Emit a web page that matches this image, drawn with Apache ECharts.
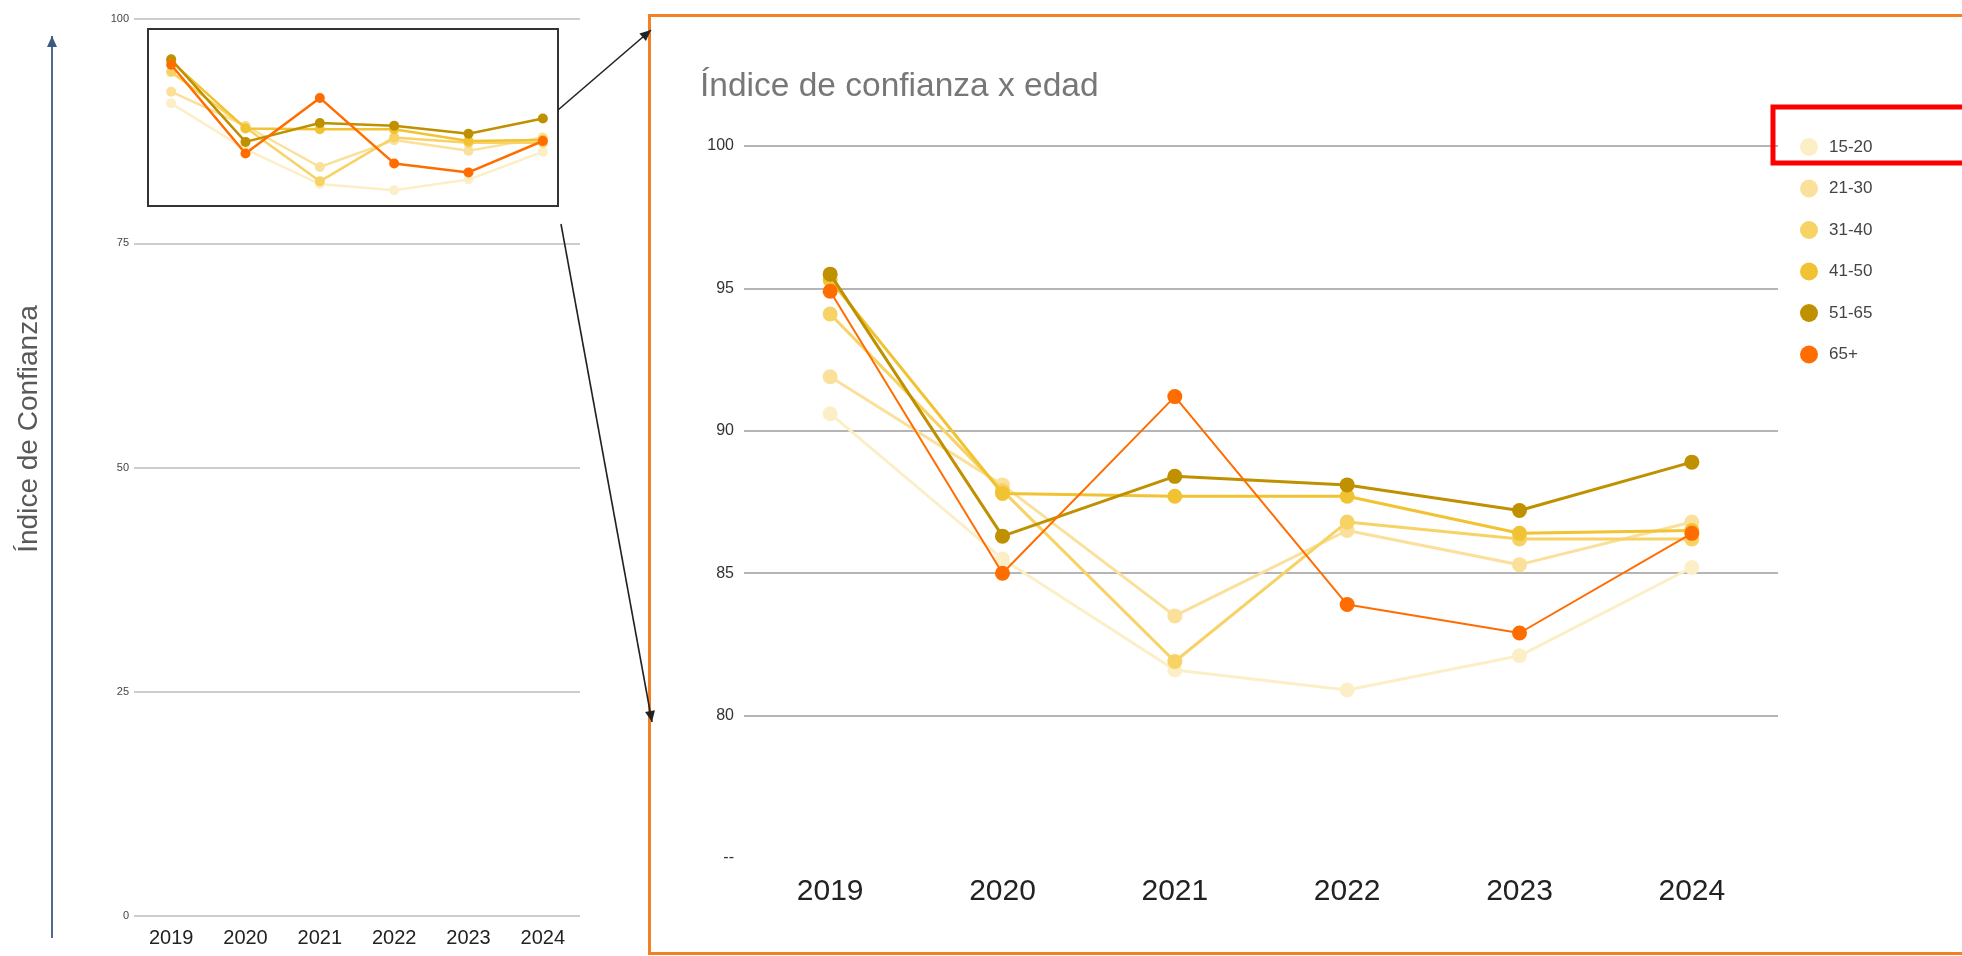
<!DOCTYPE html>
<html>
<head>
<meta charset="utf-8">
<script src="https://cdn.jsdelivr.net/npm/echarts@6/dist/echarts.min.js"></script>
<style>
html,body{margin:0;padding:0;background:#fff;}
#c{width:1962px;height:956px;}
</style>
</head>
<body>
<div id="c"></div>
<script>
// ---- data ----
const years = ['2019', '2020', '2021', '2022', '2023', '2024'];
const groups = ['15-20', '21-30', '31-40', '41-50', '51-65', '65+'];
const s15_20 = [90.6, 85.5, 81.6, 80.9, 82.1, 85.2];
const s21_30 = [91.9, 88.1, 83.5, 86.5, 85.3, 86.8];
const s31_40 = [94.1, 87.9, 81.9, 86.8, 86.2, 86.2];
const s41_50 = [95.3, 87.8, 87.7, 87.7, 86.4, 86.5];
const s51_65 = [95.5, 86.3, 88.4, 88.1, 87.2, 88.9];
const s65plus = [94.9, 85.0, 91.2, 83.9, 82.9, 86.4];
const leftTicks = [0, 25, 50, 75, 100];
const rightTicks = [75, 80, 85, 90, 95, 100];
const titleText = 'Índice de confianza x edad';
const yTitle = 'Índice de Confianza';

const seriesData = [s15_20, s21_30, s31_40, s41_50, s51_65, s65plus];
const colors = ['#fcefc8', '#fae09a', '#f7d264', '#f1c232', '#bf9000', '#ff6d01'];
const rightWidths = [3, 3, 3, 3, 3, 2];

const FONT = '"Liberation Sans", Arial, sans-serif';

const series = [];
groups.forEach((g, i) => {
  series.push({
    name: g, type: 'line', xAxisIndex: 0, yAxisIndex: 0,
    data: seriesData[i], symbol: 'circle', symbolSize: 10,
    lineStyle: { width: 2.5, color: colors[i] }, itemStyle: { color: colors[i] },
    animation: false, z: 3 + i
  });
});
groups.forEach((g, i) => {
  series.push({
    name: g, type: 'line', xAxisIndex: 1, yAxisIndex: 1,
    data: seriesData[i], symbol: 'circle', symbolSize: 15,
    lineStyle: { width: rightWidths[i], color: colors[i] }, itemStyle: { color: colors[i] },
    animation: false, z: 3 + i
  });
});

function arrowHead(x1, y1, x2, y2, len, half, color) {
  const a = Math.atan2(y2 - y1, x2 - x1);
  const bx = x2 - len * Math.cos(a), by = y2 - len * Math.sin(a);
  const px = -Math.sin(a) * half, py = Math.cos(a) * half;
  return {
    type: 'polygon', silent: true, z: 100,
    shape: { points: [[x2, y2], [bx + px, by + py], [bx - px, by - py]] },
    style: { fill: color }
  };
}
function arrow(x1, y1, x2, y2, color, w) {
  return [
    { type: 'line', silent: true, z: 100, shape: { x1, y1, x2, y2 }, style: { stroke: color, lineWidth: w } },
    arrowHead(x1, y1, x2, y2, 11, 5, color)
  ];
}

const chart = echarts.init(document.getElementById('c'), null, { renderer: 'canvas' });
chart.setOption({
  backgroundColor: '#ffffff',
  textStyle: { fontFamily: FONT },
  animation: false,
  title: {
    text: titleText, left: 700, top: 70, padding: 0,
    textStyle: { fontSize: 33.5, color: '#777777', fontWeight: 'normal', fontFamily: FONT }
  },
  legend: {
    data: groups, orient: 'vertical', left: 1795, top: 133,
    itemWidth: 18, itemHeight: 18, itemGap: 23.5, icon: 'circle', selectedMode: false,
    textStyle: { fontSize: 17, color: '#444', fontFamily: FONT, padding: [0, 0, 0, 6] }
  },
  grid: [
    { left: 134, top: 19, width: 446, height: 897 },
    { left: 744, top: 146, width: 1034, height: 712 }
  ],
  xAxis: [
    {
      type: 'category', gridIndex: 0, data: years, boundaryGap: true,
      axisLine: { show: false }, axisTick: { show: false },
      axisLabel: { fontSize: 20, color: '#222', margin: 12, fontFamily: FONT }
    },
    {
      type: 'category', gridIndex: 1, data: years, boundaryGap: true,
      axisLine: { show: false }, axisTick: { show: false },
      axisLabel: { fontSize: 30, color: '#222', margin: 19, fontFamily: FONT }
    }
  ],
  yAxis: [
    {
      type: 'value', gridIndex: 0, min: leftTicks[0], max: leftTicks[leftTicks.length - 1], interval: 25,
      axisLine: { show: false }, axisTick: { show: false },
      axisLabel: { fontSize: 11, color: '#444', margin: 5, fontFamily: FONT },
      splitLine: { lineStyle: { color: '#bdbdbd', width: 1.5 } }
    },
    {
      type: 'value', gridIndex: 1, min: rightTicks[0], max: rightTicks[rightTicks.length - 1], interval: 5,
      axisLine: { show: false }, axisTick: { show: false },
      axisLabel: {
        fontSize: 16, color: '#333', margin: 10, fontFamily: FONT,
        formatter: v => (v === rightTicks[0] ? '--' : String(v))
      },
      splitLine: { lineStyle: { color: ['rgba(0,0,0,0)', '#b5b5b5', '#b5b5b5', '#b5b5b5', '#b5b5b5', '#b5b5b5'], width: 2 } }
    }
  ],
  series: series,
  graphic: [
    { type: 'text', silent: true, z: 100, x: 29, y: 429, rotation: Math.PI / 2,
      style: { text: yTitle, fontSize: 28, fill: '#595959', fontFamily: FONT, align: 'center', verticalAlign: 'middle' } },
    { type: 'rect', silent: true, z: 90, shape: { x: 649.5, y: 15.5, width: 1400, height: 938 },
      style: { fill: 'none', stroke: '#f58024', lineWidth: 3 } },
    { type: 'rect', silent: true, z: 90, shape: { x: 148, y: 29, width: 410, height: 177 },
      style: { fill: 'none', stroke: '#333', lineWidth: 2 } },
    { type: 'rect', silent: true, z: 95, shape: { x: 1773, y: 107, width: 300, height: 56 },
      style: { fill: 'none', stroke: '#ff0000', lineWidth: 5 } },
    ...arrow(558, 110, 651, 30, '#222', 1.6),
    ...arrow(561, 224, 652, 722, '#222', 1.6),
    ...arrow(52, 938, 52, 36, '#3d5a80', 1.8)
  ]
});
</script>
</body>
</html>
